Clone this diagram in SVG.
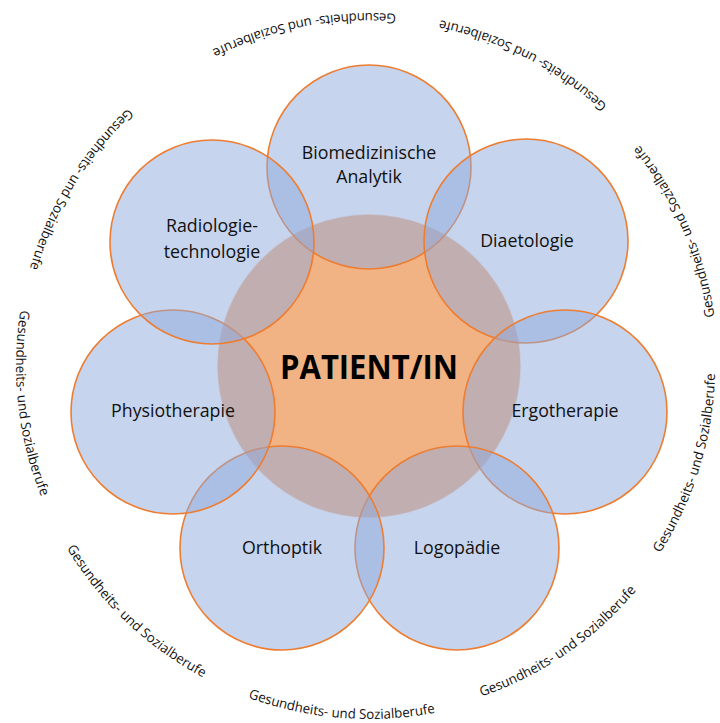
<svg xmlns="http://www.w3.org/2000/svg" width="720" height="723" viewBox="0 0 720 723">
  <style>
    .bubble { fill: #8FAADC; fill-opacity: 0.5; stroke: #ED7D31; stroke-width: 1.6; }
    .center { fill: #F2B384; stroke: #FFFFFF; stroke-opacity: 0.6; stroke-width: 1.5; }
    .lbl { font-family: "Open Sans", "Noto Sans", "Liberation Sans", sans-serif; font-size: 17.8px; fill: #111111; text-anchor: middle; }
    .main { font-family: "Open Sans", "Noto Sans", "Liberation Sans", sans-serif; font-size: 34px; font-weight: bold; fill: #000000; text-anchor: middle; }
    .ring { font-family: "Open Sans", "Noto Sans", "Liberation Sans", sans-serif; font-size: 13.5px; fill: #111111; text-anchor: middle; }
    .arc { fill: none; stroke: none; }
  </style>
  <defs>
    <path id="a1" class="arc" d="M591.1,91.7 A353,353 0 0 0 60.3,194.9"/>
    <path id="a2" class="arc" d="M713.0,286.6 A353,353 0 0 0 231.1,41.1"/>
    <path id="a3" class="arc" d="M681.9,520.6 A349,349 0 0 0 467.0,31.0"/>
    <path id="a4" class="arc" d="M504.2,684.5 A346,346 0 0 0 659.2,177.6"/>
    <path id="a5" class="arc" d="M275.2,702.2 A349,349 0 0 0 716.3,400.1"/>
    <path id="a6" class="arc" d="M81.3,570.5 A353,353 0 0 0 620.3,613.9"/>
    <path id="a7" class="arc" d="M16.7,344.5 A353,353 0 0 0 409.0,716.7"/>
    <path id="a8" class="arc" d="M113.8,122.1 A353,353 0 0 0 173.2,659.7"/>
    <path id="a9" class="arc" d="M316.8,16.9 A353,353 0 0 0 34.3,478.0"/>
  </defs>
  <rect width="720" height="723" fill="#FFFFFF"/>

  <g id="patient">
    <circle class="center" cx="369" cy="366" r="152"/>
  </g>
  <g id="biomedizinische-analytik">
    <circle class="bubble" cx="369" cy="167" r="102"/>
  </g>
  <g id="diaetologie">
    <circle class="bubble" cx="526" cy="241" r="102"/>
  </g>
  <g id="ergotherapie">
    <circle class="bubble" cx="565" cy="412" r="102"/>
  </g>
  <g id="logopaedie">
    <circle class="bubble" cx="457" cy="548" r="102"/>
  </g>
  <g id="orthoptik">
    <circle class="bubble" cx="282" cy="548" r="102"/>
  </g>
  <g id="physiotherapie">
    <circle class="bubble" cx="173" cy="412" r="102"/>
  </g>
  <g id="radiologietechnologie">
    <circle class="bubble" cx="212" cy="242" r="102"/>
  </g>

  <g id="labels">
    <text class="main" x="369" y="379" textLength="178" lengthAdjust="spacingAndGlyphs">PATIENT/IN</text>
    <text class="lbl" x="369" y="159">Biomedizinische</text>
    <text class="lbl" x="369" y="183">Analytik</text>
    <text class="lbl" x="527" y="247">Diaetologie</text>
    <text class="lbl" x="565" y="417">Ergotherapie</text>
    <text class="lbl" x="457" y="554">Logopädie</text>
    <text class="lbl" x="282" y="554">Orthoptik</text>
    <text class="lbl" x="173" y="417">Physiotherapie</text>
    <text class="lbl" x="212" y="232">Radiologie-</text>
    <text class="lbl" x="212" y="258">technologie</text>
  </g>

  <g id="connectors"></g>

  <g id="ring-labels">
    <text class="ring"><textPath href="#a1" startOffset="50%" textLength="190" lengthAdjust="spacingAndGlyphs">Gesundheits- und Sozialberufe</textPath></text>
    <text class="ring"><textPath href="#a2" startOffset="50%" textLength="190" lengthAdjust="spacingAndGlyphs">Gesundheits- und Sozialberufe</textPath></text>
    <text class="ring"><textPath href="#a3" startOffset="50%" textLength="190" lengthAdjust="spacingAndGlyphs">Gesundheits- und Sozialberufe</textPath></text>
    <text class="ring"><textPath href="#a4" startOffset="50%" textLength="190" lengthAdjust="spacingAndGlyphs">Gesundheits- und Sozialberufe</textPath></text>
    <text class="ring"><textPath href="#a5" startOffset="50%" textLength="190" lengthAdjust="spacingAndGlyphs">Gesundheits- und Sozialberufe</textPath></text>
    <text class="ring"><textPath href="#a6" startOffset="50%" textLength="190" lengthAdjust="spacingAndGlyphs">Gesundheits- und Sozialberufe</textPath></text>
    <text class="ring"><textPath href="#a7" startOffset="50%" textLength="190" lengthAdjust="spacingAndGlyphs">Gesundheits- und Sozialberufe</textPath></text>
    <text class="ring"><textPath href="#a8" startOffset="50%" textLength="190" lengthAdjust="spacingAndGlyphs">Gesundheits- und Sozialberufe</textPath></text>
    <text class="ring"><textPath href="#a9" startOffset="50%" textLength="190" lengthAdjust="spacingAndGlyphs">Gesundheits- und Sozialberufe</textPath></text>
  </g>
</svg>
